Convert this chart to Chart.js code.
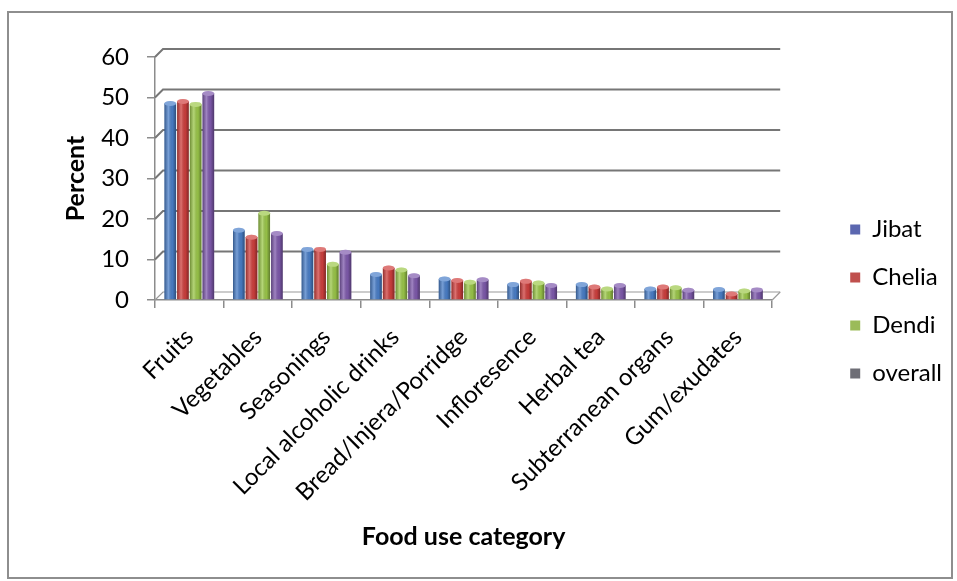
<!DOCTYPE html>
<html>
<head>
<meta charset="utf-8">
<script src="https://cdn.jsdelivr.net/npm/chart.js@4.4.1/dist/chart.umd.min.js"></script>
<style>
  html, body { margin: 0; padding: 0; background: #fff; }
  #wrap { position: relative; width: 957px; height: 581px; }
  #frame {
    position: absolute; left: 7px; top: 11px; width: 942px; height: 564px;
    border: 2px solid #8e8e8e; pointer-events: none;
  }
</style>
</head>
<body>
<div id="wrap">
  <canvas id="chart" width="957" height="581"></canvas>
  <div id="frame"></div>
</div>
<script>
const categories = ['Fruits', 'Vegetables', 'Seasonings', 'Local alcoholic drinks', 'Bread/Injera/Porridge',
    'Infloresence', 'Herbal tea', 'Subterranean organs', 'Gum/exudates'];
const jibat   = [48.5, 17.2, 12.5, 6.3, 5.2, 3.8, 3.8, 2.7, 2.6];
const chelia  = [49.0, 15.5, 12.5, 7.9, 4.8, 4.6, 3.2, 3.2, 1.5];
const dendi   = [48.3, 21.4,  8.8, 7.4, 4.4, 4.2, 2.7, 3.0, 2.2];
const overall = [51.0, 16.4, 11.8, 6.0, 5.0, 3.6, 3.6, 2.4, 2.5];
const yTicks = [0, 10, 20, 30, 40, 50, 60];

const FONT = 'Lato, "Open Sans", sans-serif';
const DX = 8, DY = 8;   // depth offset of the back wall

// back wall gridlines, drawn offset up/right like a 3-D chart
const backWall = {
    id: 'backWall',
    beforeDatasetsDraw(chart) {
        const { ctx, chartArea: a, scales: { y } } = chart;
        ctx.save();
        yTicks.forEach(v => {
            const py = y.getPixelForValue(v);
            ctx.strokeStyle = v === 0 ? '#9a9a9a' : '#767676';
            ctx.lineWidth = v === 0 ? 1.2 : 2;
            ctx.beginPath();
            ctx.moveTo(a.left, py);
            ctx.lineTo(a.left + DX, py - DY);
            ctx.lineTo(a.right + DX, py - DY);
            ctx.stroke();
        });
        ctx.strokeStyle = '#9a9a9a';
        ctx.lineWidth = 1.2;
        ctx.beginPath();
        ctx.moveTo(a.right, a.bottom);
        ctx.lineTo(a.right + DX, a.bottom - DY);
        ctx.stroke();
        ctx.restore();
    }
};

// cylinder-like shading over every bar
const barShade = {
    id: 'barShade',
    afterDatasetsDraw(chart) {
        const ctx = chart.ctx;
        ctx.save();
        chart.data.datasets.forEach((ds, i) => {
            chart.getDatasetMeta(i).data.forEach(bar => {
                const { x, y, base, width } = bar.getProps(['x', 'y', 'base', 'width'], true);
                const l = x - width / 2;
                const g = ctx.createLinearGradient(l, 0, l + width, 0);
                g.addColorStop(0, 'rgba(0,0,0,0.30)');
                g.addColorStop(0.35, 'rgba(255,255,255,0.25)');
                g.addColorStop(0.7, 'rgba(0,0,0,0.05)');
                g.addColorStop(1, 'rgba(0,0,0,0.38)');
                ctx.fillStyle = g;
                ctx.fillRect(l, y, width, base - y);
                ctx.beginPath();
                ctx.ellipse(x, y, width / 2, 2.5, 0, 0, Math.PI * 2);
                ctx.fillStyle = ds.backgroundColor;
                ctx.fill();
                ctx.fillStyle = 'rgba(255,255,255,0.3)';
                ctx.fill();
            });
        });
        ctx.restore();
    }
};

const swatches = ['#5b67b0', '#c0504d', '#9bbb59', '#6e6e76'];

new Chart(document.getElementById('chart'), {
    type: 'bar',
    data: {
        labels: categories,
        datasets: [
            { label: 'Jibat', data: jibat, backgroundColor: '#4a7fc9' },
            { label: 'Chelia', data: chelia, backgroundColor: '#d0403e' },
            { label: 'Dendi', data: dendi, backgroundColor: '#9cc84a' },
            { label: 'overall', data: overall, backgroundColor: '#7f5aad' }
        ]
    },
    options: {
        responsive: false,
        animation: false,
        layout: { padding: { top: 57, bottom: 35, left: 57, right: 5 } },
        datasets: { bar: { categoryPercentage: 0.74, barPercentage: 0.92 } },
        scales: {
            x: {
                grid: { offset: true, drawOnChartArea: false, tickLength: 8, color: '#8c8c8c', lineWidth: 1.5 },
                border: { color: '#8c8c8c', width: 1.5 },
                ticks: { minRotation: 45, maxRotation: 45, padding: 15, color: '#000', font: { family: FONT, size: 24 } },
                title: {
                    display: true, text: 'Food use category', color: '#000',
                    padding: { top: 4, bottom: -6 },
                    font: { family: FONT, size: 25, weight: 'bold' }
                },
                afterFit(s) { s.height = 246; }
            },
            y: {
                min: 0, max: 60,
                afterBuildTicks(s) { s.ticks = yTicks.map(v => ({ value: v })); },
                grid: { drawOnChartArea: false, tickLength: 8, color: '#8c8c8c', lineWidth: 1.5 },
                border: { color: '#8c8c8c', width: 1.5 },
                ticks: { padding: 18, color: '#000', font: { family: FONT, size: 24 } },
                title: { display: true, text: 'Percent', color: '#000', font: { family: FONT, size: 25, weight: 'bold' } },
                afterFit(s) { s.width = 98; }
            },
            gap: {
                position: 'right',
                grid: { display: false },
                border: { display: false },
                ticks: { display: false },
                afterFit(s) { s.width = 54; }
            }
        },
        plugins: {
            tooltip: { enabled: false },
            legend: {
                position: 'right',
                labels: {
                    boxWidth: 10, boxHeight: 10, padding: 24, color: '#000',
                    font: { family: FONT, size: 24 },
                    generateLabels: chart => chart.data.datasets.map((ds, i) => ({
                        text: ds.label, fillStyle: swatches[i], strokeStyle: swatches[i],
                        lineWidth: 0, fontColor: '#000', datasetIndex: i
                    }))
                }
            }
        }
    },
    plugins: [backWall, barShade]
});
</script>
</body>
</html>
